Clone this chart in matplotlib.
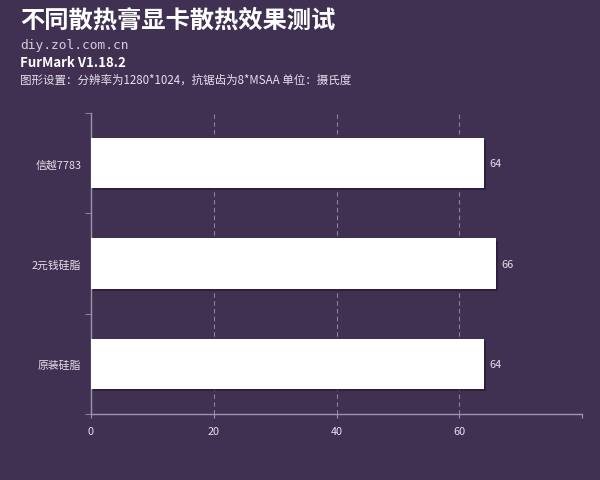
import matplotlib
matplotlib.use("Agg")
import matplotlib.pyplot as plt
import matplotlib.patheffects as pe

plt.rcParams['font.family'] = ['Noto Sans CJK SC', 'DejaVu Sans']

# Data
categories = ["信越7783", "2元钱硅脂", "原装硅脂"]
values = [64, 66, 64]
x_ticks = [0, 20, 40, 60, 80]
x_tick_labels = ["0", "20", "40", "60", ""]

bg = "#403152"
text_col = "#e6e1ec"
axis_col = "#9d93ad"

fig = plt.figure(figsize=(6, 4.81), dpi=100)
fig.patch.set_facecolor(bg)
ax = fig.add_axes([91 / 600, 66 / 481, 491 / 600, 301 / 481])
ax.set_facecolor(bg)

# Bars with drop shadow
pos = list(range(len(categories)))
bars = ax.barh(pos, values, height=0.5, color="white", zorder=3)
for b in bars:
	b.set_path_effects([pe.SimplePatchShadow(offset=(1.5, -1.5), shadow_rgbFace="#241a30", alpha=0.7), pe.Normal()])

# Value labels
for p, v in zip(pos, values):
	ax.text(v + 0.9, p, str(v), va="center", ha="left", color=text_col, fontsize=7.8)

# Axes
ax.set_xlim(0, 80)
ax.set_ylim(2.5, -0.5)
ax.set_xticks(x_ticks)
ax.set_xticklabels(x_tick_labels, color=text_col, fontsize=7.8)
ax.set_yticks(pos)
ax.set_yticklabels(categories, color=text_col, fontsize=7.8)
ax.set_yticks([-0.5, 0.5, 1.5, 2.5], minor=True)
ax.tick_params(axis="y", which="major", length=0, pad=7)
ax.tick_params(axis="y", which="minor", length=4, color=axis_col, direction="out")
ax.tick_params(axis="x", length=3, color=axis_col, pad=6)

for s in ["top", "right"]:
	ax.spines[s].set_visible(False)
for s in ["left", "bottom"]:
	ax.spines[s].set_color(axis_col)
	ax.spines[s].set_linewidth(1.0)

ax.grid(axis="x", linestyle=(0, (4, 3)), color="#8c829c", linewidth=0.8, zorder=1)
ax.xaxis.get_gridlines()[0].set_visible(False)

# Titles
fig.text(20 / 600, 1 - 21 / 481, "不同散热膏显卡散热效果测试", color="white", fontsize=17.5,
		fontweight="bold", va="center", ha="left")
fig.text(20 / 600, 1 - 46 / 481, "diy.zol.com.cn", color="#d4cedb", fontsize=9.3,
		family=["DejaVu Sans Mono"], va="center", ha="left")
fig.text(20 / 600, 1 - 63 / 481, "FurMark V1.18.2", color="white", fontsize=9.5,
		fontweight="bold", va="center", ha="left")
fig.text(20 / 600, 1 - 80 / 481, "图形设置：分辨率为1280*1024，抗锯齿为8*MSAA 单位：摄氏度", color="#e6e1ec",
		fontsize=8.3, va="center", ha="left")

plt.savefig("out.png", dpi=100, facecolor=bg)
